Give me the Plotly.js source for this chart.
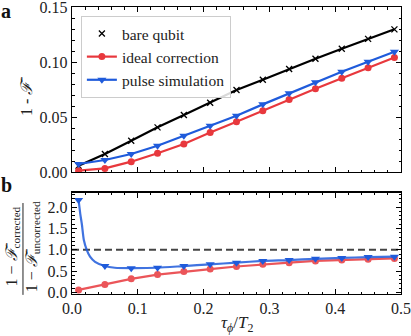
<!DOCTYPE html>
<html>
<head>
<meta charset="utf-8">
<script src="https://cdn.plot.ly/plotly-3.0.1.min.js"></script>
<style>
  html, body { margin: 0; padding: 0; background: #fff; }
  #chart { width: 411px; height: 336px; }
</style>
</head>
<body>
<div id="chart"></div>
<script>
// dephasing time points (tau_phi / T2)
const tau = [0.01, 0.05, 0.09, 0.13, 0.17, 0.21, 0.25, 0.29, 0.33, 0.37, 0.41, 0.45, 0.49];

// panel a : 1 - mean fidelity
const bareInfid  = [0.0057, 0.0164, 0.0285, 0.0406, 0.0518, 0.0630, 0.0745, 0.0839, 0.0936, 0.1030, 0.1120, 0.1210, 0.1297];
const idealInfid = [0.0012, 0.0033, 0.0094, 0.0170, 0.0255, 0.0360, 0.0457, 0.0557, 0.0660, 0.0757, 0.0852, 0.0948, 0.1042];
const pulseInfid = [0.0073, 0.0109, 0.0164, 0.0239, 0.0330, 0.0420, 0.0512, 0.0615, 0.0715, 0.0815, 0.0912, 0.1003, 0.1094];

// panel b : ratio corrected / uncorrected
const idealRatio = [0.06, 0.19, 0.32, 0.42, 0.49, 0.55, 0.61, 0.66, 0.70, 0.74, 0.76, 0.78, 0.80];
const pulseRatio = [2.17, 0.62, 0.57, 0.58, 0.62, 0.66, 0.70, 0.74, 0.76, 0.79, 0.81, 0.83, 0.84];

// smooth pulse-simulation curve
const pulseCurveX = [0.01, 0.0125, 0.015, 0.018, 0.0224, 0.0274, 0.035, 0.05, 0.065, 0.09, 0.13, 0.17, 0.21, 0.25, 0.29, 0.33, 0.37, 0.41, 0.45, 0.49];
const pulseCurveY = [2.17, 1.85, 1.60, 1.23, 1.00, 0.84, 0.72, 0.62, 0.58, 0.57, 0.58, 0.62, 0.66, 0.70, 0.74, 0.76, 0.79, 0.81, 0.83, 0.84];

// break-even reference
const refX = [0, 0.5];
const refY = [1, 1];

const RED = '#e8383d';
const BLUE = '#1f5bdb';
const FONT = "'Liberation Serif', 'DejaVu Serif', serif";

const traces = [
    // panel a
    { x: tau, y: bareInfid, xaxis: 'x', yaxis: 'y', mode: 'lines',
      line: { color: 'black', width: 2.2 }, showlegend: false },
    { x: tau, y: bareInfid, xaxis: 'x', yaxis: 'y', mode: 'markers', name: 'bare qubit',
      marker: { symbol: 'x-thin', size: 6, color: 'black', line: { color: 'black', width: 1.3 } } },
    { x: tau, y: idealInfid, xaxis: 'x', yaxis: 'y', mode: 'lines+markers', name: 'ideal correction',
      line: { color: RED, width: 2.2 }, marker: { symbol: 'circle', size: 7, color: RED } },
    { x: tau, y: pulseInfid, xaxis: 'x', yaxis: 'y', mode: 'lines+markers', name: 'pulse simulation',
      line: { color: BLUE, width: 2.2 }, marker: { symbol: 'triangle-down', size: 8, color: BLUE } },

    // panel b
    { x: refX, y: refY, xaxis: 'x2', yaxis: 'y2', mode: 'lines',
      line: { color: '#444', width: 2, dash: '7px,4px' }, showlegend: false },
    { x: tau, y: idealRatio, xaxis: 'x2', yaxis: 'y2', mode: 'lines+markers',
      line: { color: RED, width: 2.2 }, marker: { symbol: 'circle', size: 7, color: RED },
      opacity: 0.85, showlegend: false },
    { x: pulseCurveX, y: pulseCurveY, xaxis: 'x2', yaxis: 'y2', mode: 'lines',
      line: { color: BLUE, width: 2.2, shape: 'spline', smoothing: 0.6 }, opacity: 0.85, showlegend: false },
    { x: tau, y: pulseRatio, xaxis: 'x2', yaxis: 'y2', mode: 'markers',
      marker: { symbol: 'triangle-down', size: 8, color: BLUE }, showlegend: false }
];

function xAxis(showLabels, anchor) {
    return {
        anchor: anchor, domain: [0, 1], range: [0, 0.5],
        dtick: 0.1, tickformat: '.1f', showticklabels: showLabels,
        ticklabeloverflow: 'allow',
        ticks: 'inside', ticklen: 5, tickwidth: 1, tickcolor: 'black',
        minor: { dtick: 0.02, ticks: 'inside', ticklen: 2.5, tickwidth: 1, tickcolor: 'black' },
        showline: true, linecolor: 'black', linewidth: 1.2, mirror: 'ticks',
        showgrid: false, zeroline: false
    };
}

const layout = {
    width: 411, height: 336,
    margin: { l: 72, r: 10, t: 7, b: 42 },
    paper_bgcolor: 'white', plot_bgcolor: 'white',
    font: { family: FONT, size: 16, color: '#222' },
    xaxis: xAxis(false, 'y'),
    xaxis2: xAxis(true, 'y2'),
    yaxis: {
        anchor: 'x', domain: [0.425, 1], range: [0, 0.15001],
        tickvals: [0, 0.05, 0.1, 0.15], ticktext: ['0.00', '0.05', '0.10', '0.15'],
        ticklabeloverflow: 'allow',
        ticks: 'inside', ticklen: 5, tickwidth: 1, tickcolor: 'black',
        minor: { dtick: 0.01, ticks: 'inside', ticklen: 2.5, tickwidth: 1, tickcolor: 'black' },
        showline: true, linecolor: 'black', linewidth: 1.2, mirror: 'ticks',
        showgrid: false, zeroline: false
    },
    yaxis2: {
        anchor: 'x2', domain: [0, 0.353], range: [-0.035, 2.34],
        dtick: 0.5, tickformat: '.1f', ticklabeloverflow: 'allow',
        ticks: 'inside', ticklen: 5, tickwidth: 1, tickcolor: 'black',
        minor: { dtick: 0.1, ticks: 'inside', ticklen: 2.5, tickwidth: 1, tickcolor: 'black' },
        showline: true, linecolor: 'black', linewidth: 1.2, mirror: 'ticks',
        showgrid: false, zeroline: false
    },
    legend: {
        x: 0.027, y: 0.969, xanchor: 'left', yanchor: 'top',
        bgcolor: 'rgba(255,255,255,0.85)', bordercolor: '#cccccc', borderwidth: 1,
        font: { family: FONT, size: 15.5, color: '#222' },
        tracegroupgap: 0, itemwidth: 30
    },
    annotations: [
        { text: '<b>a</b>', xref: 'paper', yref: 'paper', x: -0.2, y: 0.985,
          xanchor: 'center', yanchor: 'middle', showarrow: false, font: { family: FONT, size: 20, color: '#111' } },
        { text: '<b>b</b>', xref: 'paper', yref: 'paper', x: -0.2, y: 0.38,
          xanchor: 'center', yanchor: 'middle', showarrow: false, font: { family: FONT, size: 20, color: '#111' } },
        { text: '1 - <i>ℱ̄</i>', xref: 'paper', yref: 'paper', x: -0.137, y: 0.69,
          xanchor: 'center', yanchor: 'middle', textangle: -90, showarrow: false, font: { family: FONT, size: 16 } },
        { text: '1 − <i>ℱ̄</i><sub>corrected</sub>', xref: 'paper', yref: 'paper', x: -0.18, y: 0.165,
          xanchor: 'center', yanchor: 'middle', textangle: -90, showarrow: false, font: { family: FONT, size: 16 } },
        { text: '1 − <i>ℱ̄</i><sub>uncorrected</sub>', xref: 'paper', yref: 'paper', x: -0.12, y: 0.165,
          xanchor: 'center', yanchor: 'middle', textangle: -90, showarrow: false, font: { family: FONT, size: 16 } },
        { text: '<i>τ</i><sub><i>ϕ</i></sub>/<i>T</i><sub>2</sub>', xref: 'paper', yref: 'paper', x: 0.5, y: -0.105,
          xanchor: 'center', yanchor: 'middle', showarrow: false, font: { family: FONT, size: 17 } }
    ],
    shapes: [
        { type: 'line', xref: 'paper', yref: 'paper', x0: -0.149, x1: -0.149, y0: -0.003, y1: 0.317,
          line: { color: '#222', width: 1 } }
    ]
};

Plotly.newPlot('chart', traces, layout, { displayModeBar: false, staticPlot: true });
</script>
</body>
</html>
